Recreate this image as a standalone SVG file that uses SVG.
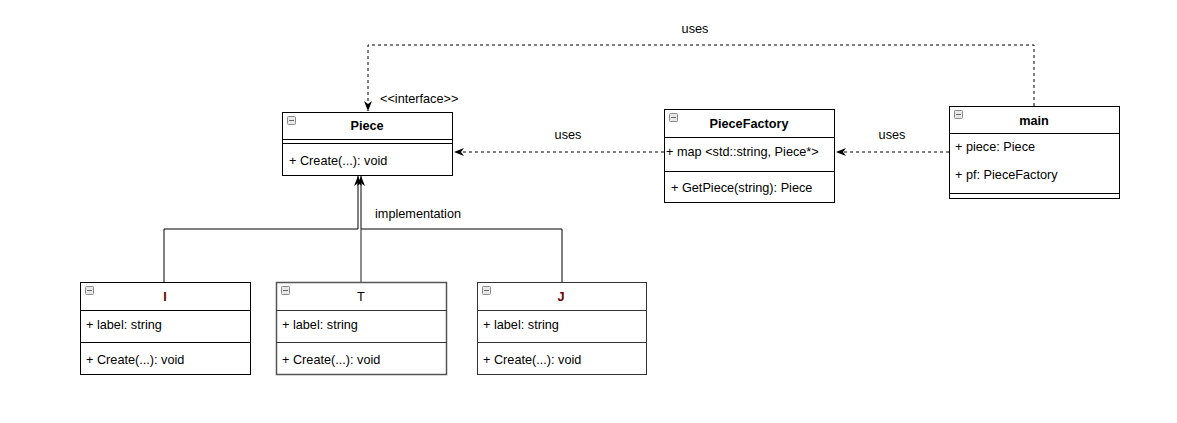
<svg xmlns="http://www.w3.org/2000/svg" width="1177" height="423" viewBox="0 0 1177 423">
<style>
text{font-family:"Liberation Sans",Arial,sans-serif;font-size:12.7px;fill:#000}
.t{font-weight:bold;text-anchor:middle}
.box{fill:#fff;stroke:#000;stroke-width:1}
.ln{stroke:#000;stroke-width:1;fill:none}
.dash{stroke:#000;stroke-width:1;fill:none;stroke-dasharray:3 3}
.ic{fill:#e8e8e8;stroke:#8a8a8a;stroke-width:1}
.icl{stroke:#666;stroke-width:1}
</style>
<defs>
<marker id="arr" viewBox="0 0 10 8" refX="10" refY="4" markerWidth="10" markerHeight="8" orient="auto" markerUnits="userSpaceOnUse">
<path d="M0,0 L10,4 L0,8 L3,4 z" fill="#000"/>
</marker>
<g id="icon"><rect class="ic" x="0.5" y="0.5" width="8" height="8" rx="1"/><line class="icl" x1="2" y1="4.5" x2="7" y2="4.5"/></g>
</defs>
<rect width="1177" height="423" fill="#fff"/>
<g id="connectors">
<path class="dash" d="M1034,106 V45 H368 V111" marker-end="url(#arr)"/>
<text x="695" y="33" text-anchor="middle">uses</text>
<path class="dash" d="M664,152 H454" marker-end="url(#arr)"/>
<text x="568" y="139" text-anchor="middle">uses</text>
<path class="dash" d="M949,152 H836" marker-end="url(#arr)"/>
<text x="892" y="139" text-anchor="middle">uses</text>
<path class="ln" d="M164,282 V229 H358 V176" marker-end="url(#arr)"/>
<path class="ln" d="M562,282 V229 H361 V176" marker-end="url(#arr)"/>
<path d="M361,282 V229" stroke="#666" stroke-width="1.5" fill="none"/>
<text x="375" y="218">implementation</text>
</g>
<text x="380" y="103">&lt;&lt;interface&gt;&gt;</text>
<g id="Piece">
<rect class="box" x="282.5" y="112.5" width="170" height="63"/>
<line class="ln" x1="282" y1="139.5" x2="453" y2="139.5"/>
<line class="ln" x1="282" y1="143.5" x2="453" y2="143.5"/>
<use href="#icon" x="287" y="116"/>
<text class="t" x="367" y="130">Piece</text>
<text x="289" y="165">+ Create(...): void</text>
</g>
<g id="PieceFactory">
<rect class="box" x="664.5" y="109.5" width="170" height="93"/>
<line class="ln" x1="664" y1="137.5" x2="835" y2="137.5"/>
<line class="ln" x1="664" y1="171.5" x2="835" y2="171.5"/>
<use href="#icon" x="669" y="113"/>
<text class="t" x="749" y="128">PieceFactory</text>
<text x="666" y="156">+ map &lt;std::string, Piece*&gt;</text>
<text x="671" y="192">+ GetPiece(string): Piece</text>
</g>
<g id="main">
<rect class="box" x="949.5" y="106.5" width="170" height="92"/>
<line class="ln" x1="949" y1="133.5" x2="1120" y2="133.5"/>
<line class="ln" x1="949" y1="193.5" x2="1120" y2="193.5"/>
<use href="#icon" x="954" y="110"/>
<text class="t" x="1034" y="125">main</text>
<text x="955" y="151">+ piece: Piece</text>
<text x="955" y="179">+ pf: PieceFactory</text>
</g>
<g id="I">
<rect class="box" x="80.5" y="282.5" width="170" height="92"/>
<line class="ln" x1="80" y1="310.5" x2="251" y2="310.5"/>
<line class="ln" x1="80" y1="342.5" x2="251" y2="342.5"/>
<use href="#icon" x="85" y="286"/>
<text class="t" x="165" y="301" style="fill:#6b0000">I</text>
<text x="86" y="329">+ label: string</text>
<text x="86" y="364">+ Create(...): void</text>
</g>
<g id="T">
<rect class="box" x="276.5" y="282.5" width="170" height="92" style="stroke:#555;stroke-width:1.5"/>
<line x1="276" y1="310.5" x2="447" y2="310.5" stroke="#333"/>
<line x1="276" y1="342.5" x2="447" y2="342.5" stroke="#333"/>
<use href="#icon" x="281" y="286"/>
<text class="t" x="361" y="301" style="font-weight:normal;fill:#000">T</text>
<text x="282" y="329">+ label: string</text>
<text x="282" y="364">+ Create(...): void</text>
</g>
<g id="J">
<rect class="box" x="477.5" y="282.5" width="169" height="92" style="stroke:#333"/>
<line x1="477" y1="310.5" x2="647" y2="310.5" stroke="#333"/>
<line x1="477" y1="342.5" x2="647" y2="342.5" stroke="#333"/>
<use href="#icon" x="482" y="286"/>
<text class="t" x="561" y="301" style="fill:#6b0000">J</text>
<text x="483" y="329">+ label: string</text>
<text x="483" y="364">+ Create(...): void</text>
</g>
</svg>
